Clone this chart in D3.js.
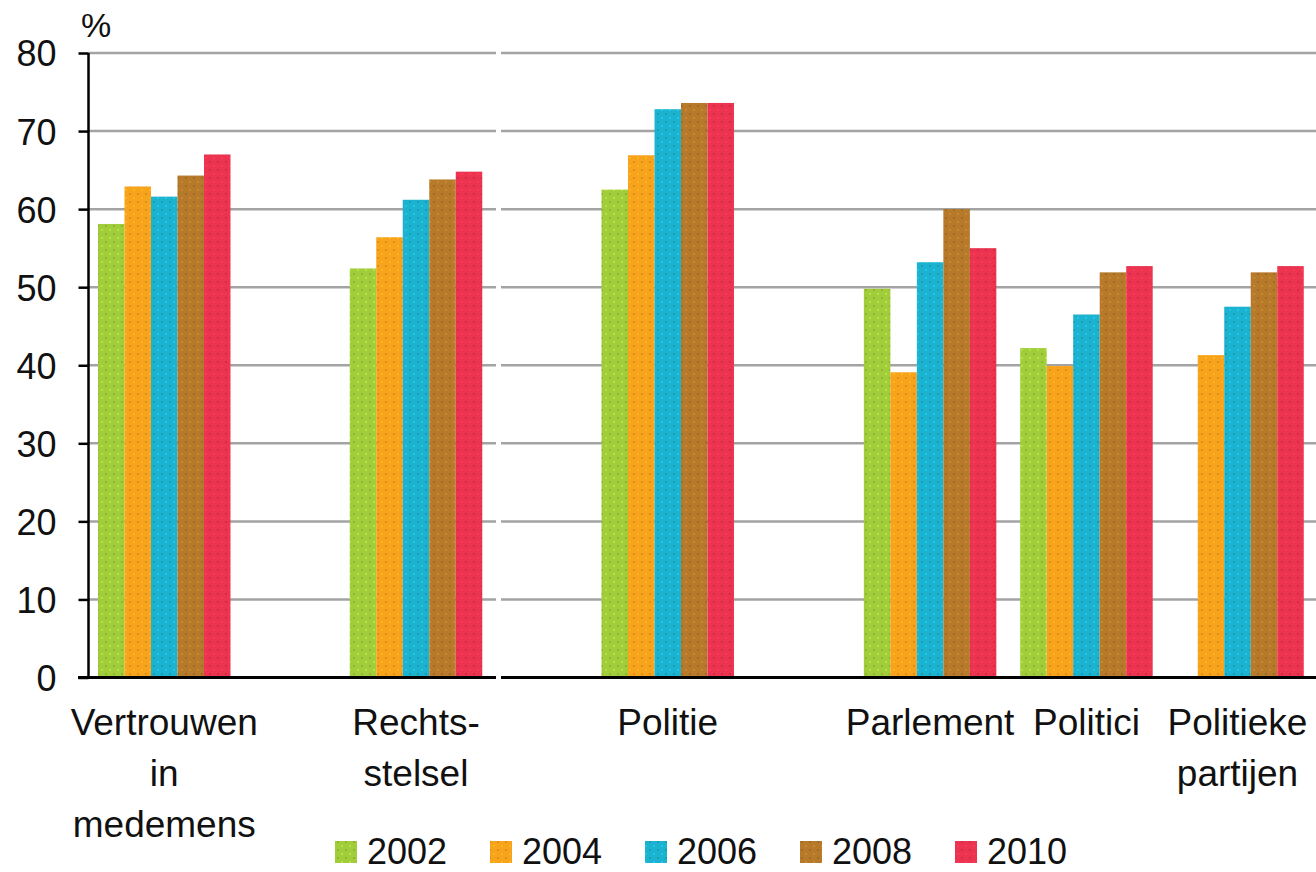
<!DOCTYPE html>
<html>
<head>
<meta charset="utf-8">
<script src="https://cdn.jsdelivr.net/npm/d3@7"></script>
<style>
  html, body { margin: 0; padding: 0; background: #fff; }
  svg { display: block; }
  text { font-family: "Liberation Sans", Arial, sans-serif; fill: #111; }
</style>
</head>
<body>
<svg id="chart" width="1316" height="872"></svg>
<script>
// ---- data ----
const categories = [
  ["Vertrouwen", "in", "medemens"],
  ["Rechts-", "stelsel"],
  ["Politie"],
  ["Parlement"],
  ["Politici"],
  ["Politieke", "partijen"]
];
const years = ["2002", "2004", "2006", "2008", "2010"];
const v2002 = [58.1, 52.4, 62.5, 49.8, 42.2, null];
const v2004 = [62.9, 56.4, 66.9, 39.1, 39.9, 41.3];
const v2006 = [61.6, 61.2, 72.8, 53.2, 46.5, 47.5];
const v2008 = [64.3, 63.8, 73.6, 60.0, 51.9, 51.9];
const v2010 = [67.0, 64.8, 73.6, 55.0, 52.7, 52.7];
const series = [v2002, v2004, v2006, v2008, v2010];
const yTicks = [0, 10, 20, 30, 40, 50, 60, 70, 80];
const colors = ["#a2cd3a", "#f8a31c", "#1bb3cf", "#b7792a", "#ec3350"];

// ---- layout ----
const W = 1316, H = 872;
const axisX = 88.5, plotRight = 1316;
const barW = 26.5, firstBarX = 98;
const gapUnits = [0, 4.5, 4.5, 4.9, 0.9, 0.7]; // gap before each group, in bar widths
const breakX0 = 496, breakX1 = 501;

const svg = d3.select("#chart");
const defs = svg.append("defs");

// subtle dotted texture like the original
colors.forEach((c, i) => {
  const p = defs.append("pattern").attr("id", "pat" + i)
    .attr("patternUnits", "userSpaceOnUse").attr("width", 8).attr("height", 8);
  p.append("rect").attr("width", 8).attr("height", 8).attr("fill", c);
  const dc = d3.color(c);
  p.append("circle").attr("cx", 2).attr("cy", 2).attr("r", 1.1).attr("fill", dc.darker(0.45));
  p.append("circle").attr("cx", 6).attr("cy", 6).attr("r", 1.1).attr("fill", dc.brighter(0.35));
});

const y = d3.scaleLinear().domain([0, 80]).range([677.5, 53]);

// slot scale: position measured in bar-width units
let acc = 0;
const groupStart = categories.map((c, i) => { acc += gapUnits[i]; const s = acc; acc += years.length; return s; });
const totalUnits = acc;
const xs = d3.scaleLinear().domain([0, totalUnits]).range([firstBarX, firstBarX + totalUnits * barW]);

// gridlines (with small break)
const grid = svg.append("g");
yTicks.filter(t => t > 0).forEach(t => {
  [[axisX, breakX0], [breakX1, plotRight]].forEach(([a, b]) => {
    grid.append("line").attr("x1", a).attr("x2", b)
      .attr("y1", y(t)).attr("y2", y(t))
      .attr("stroke", "#a3a3a3").attr("stroke-width", 2.5);
  });
});

// bars
const barsG = svg.append("g");
series.forEach((vals, si) => {
  barsG.selectAll(null)
    .data(vals.map((v, ci) => ({ v, ci })).filter(d => d.v != null))
    .enter().append("rect")
    .attr("x", d => xs(groupStart[d.ci] + si))
    .attr("width", xs(1) - xs(0))
    .attr("y", d => y(d.v))
    .attr("height", d => y(0) - y(d.v))
    .attr("fill", "url(#pat" + si + ")");
});

// y axis
const yAxis = d3.axisLeft(y).tickValues(yTicks).tickSize(10).tickPadding(22);
const yg = svg.append("g").attr("transform", `translate(${axisX},0)`).call(yAxis);
yg.select(".domain").remove();
yg.selectAll(".tick line").attr("stroke", "#000").attr("stroke-width", 2.5);
yg.selectAll(".tick text").attr("font-size", 36).attr("fill", "#111")
  .style("font-family", '"Liberation Sans", Arial, sans-serif').attr("dy", "0.36em");
svg.append("line").attr("x1", axisX).attr("x2", axisX).attr("y1", y(80)).attr("y2", y(0))
  .attr("stroke", "#000").attr("stroke-width", 2.5);

// x axis line with break
[[78, breakX0], [breakX1, plotRight]].forEach(([a, b]) => {
  svg.append("line").attr("x1", a).attr("x2", b).attr("y1", y(0)).attr("y2", y(0))
    .attr("stroke", "#000").attr("stroke-width", 3);
});

// unit label
svg.append("text").attr("x", 81).attr("y", 37).attr("font-size", 34).text("%");

// category labels
const labG = svg.append("g");
categories.forEach((lines, ci) => {
  const cx = xs(groupStart[ci] + years.length / 2);
  const t = labG.append("text").attr("text-anchor", "middle").attr("font-size", 37);
  lines.forEach((ln, li) => {
    t.append("tspan").attr("x", cx).attr("y", 735 + li * 51).text(ln);
  });
});

// legend
const legX = d3.scaleBand().domain(years).range([335, 335 + 155 * years.length]);
const lg = svg.append("g");
years.forEach((yr, i) => {
  lg.append("rect").attr("x", legX(yr)).attr("y", 841).attr("width", 22).attr("height", 22)
    .attr("fill", "url(#pat" + i + ")");
  lg.append("text").attr("x", legX(yr) + 32).attr("y", 864).attr("font-size", 36).text(yr);
});
</script>
</body>
</html>
